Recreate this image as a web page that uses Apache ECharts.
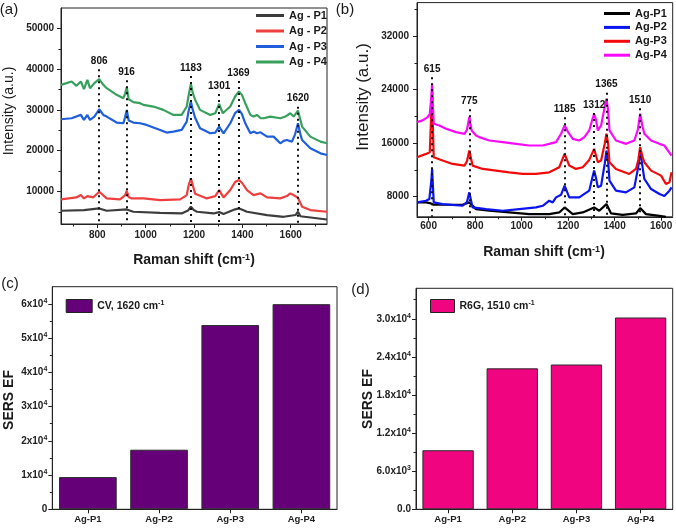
<!DOCTYPE html>
<html><head><meta charset="utf-8">
<script src="https://cdn.jsdelivr.net/npm/echarts@6/dist/echarts.min.js"></script>
<style>html,body{margin:0;padding:0;background:#fff}#c{width:676px;height:529px}</style>
</head><body><div id="c"></div>
<script>
// ---------- Panel (a): CV spectra ----------
const namesA = ['Ag - P1', 'Ag - P2', 'Ag - P3', 'Ag - P4'];
const specA_P1 = [[650,5250],[745,5410],[808,5820],[839,5250],[922,5570],[949,5000],[1060,4750],[1149,4590],[1175,5300],[1187,6230],[1200,5400],[1212,5000],[1281,4590],[1304,4920],[1322,4430],[1370,5600],[1386,5820],[1400,5500],[1419,5000],[1502,4180],[1571,3770],[1620,4200],[1630,5000],[1640,3900],[1647,3770],[1750,3110]];
const specA_P2 = [[650,8030],[714,8520],[732,9100],[745,8280],[759,8850],[783,8520],[808,9920],[839,8280],[894,8030],[915,9000],[922,10160],[930,8600],[942,8280],[991,8280],[1060,7870],[1143,8030],[1170,9100],[1178,11500],[1187,13200],[1195,11500],[1205,9400],[1253,8280],[1288,8850],[1304,10330],[1322,8520],[1350,10330],[1370,12300],[1386,12790],[1400,12000],[1419,10330],[1446,9100],[1475,9500],[1502,8520],[1557,8280],[1584,8850],[1598,9500],[1612,9100],[1630,8400],[1647,6230],[1681,5410],[1750,5000]];
const specA_P3 = [[650,27700],[694,27950],[732,28770],[745,27540],[759,28770],[770,27540],[788,28360],[808,30160],[825,28770],[839,28360],[880,26890],[908,26720],[915,28200],[922,30000],[930,27400],[949,26890],[977,26720],[1004,26310],[1060,25080],[1087,24430],[1115,24670],[1149,25080],[1170,27130],[1177,29500],[1187,32050],[1195,30000],[1205,28000],[1225,25490],[1267,24260],[1288,24430],[1304,25900],[1322,24260],[1350,26720],[1370,29200],[1386,30000],[1398,29000],[1412,26720],[1433,24260],[1446,24670],[1460,24260],[1475,24500],[1502,23440],[1529,23440],[1557,21800],[1571,22400],[1584,22620],[1605,22210],[1618,24000],[1630,26720],[1640,24000],[1647,22620],[1681,20570],[1723,19340],[1750,18930]];
const specA_P4 = [[650,36150],[673,36560],[694,36970],[714,35900],[732,36970],[745,35080],[759,37380],[770,35330],[788,36560],[808,37540],[825,36150],[839,35330],[880,33690],[908,32870],[915,34000],[922,35575],[930,32600],[949,31900],[977,31640],[991,31230],[1032,30820],[1073,30000],[1115,28770],[1149,28770],[1170,30820],[1177,33280],[1187,36390],[1195,34100],[1205,32460],[1225,30000],[1267,28770],[1288,29180],[1304,31480],[1319,29180],[1350,30820],[1370,33280],[1386,34510],[1398,33690],[1412,31640],[1433,28770],[1446,28360],[1460,28770],[1475,28000],[1488,27950],[1515,28360],[1557,27950],[1578,28360],[1598,29180],[1612,28360],[1630,29840],[1640,27540],[1647,25900],[1681,23440],[1723,22210],[1750,21800]];
const peakLabelA = ['806', '916', '1183', '1301', '1369', '1620'];
const peakPosA = [808, 921, 1187, 1304, 1384, 1630];
const peakTopA = [40000, 37300, 38300, 33900, 37100, 30800];
const tickA_x = [800, 1000, 1200, 1400, 1600];
const minorA_x = [700, 900, 1100, 1300, 1500, 1700];
const tickA_y = [10000, 20000, 30000, 40000, 50000];
const minorA_y = [5000, 15000, 25000, 35000, 45000];

// ---------- Panel (b): R6G spectra ----------
const namesB = ['Ag-P1', 'Ag-P2', 'Ag-P3', 'Ag-P4'];
const specB_P1 = [[550,7150],[589,7150],[610,7000],[615,7200],[622,6800],[746,6800],[775,7150],[804,6150],[861,5900],[947,5650],[1033,5400],[1119,5400],[1162,5650],[1185,6400],[1220,5400],[1263,5650],[1312,6400],[1334,5900],[1365,6900],[1385,5500],[1435,5300],[1492,5500],[1510,6300],[1535,5400],[1593,5150],[1621,5000]];
const specB_P2 = [[550,7150],[589,7400],[603,7650],[612,10500],[615,12150],[618,10000],[622,7150],[660,6900],[746,6650],[765,7200],[775,8650],[789,6400],[847,6150],[919,5900],[990,6150],[1062,6400],[1091,6650],[1119,7400],[1134,7150],[1148,7900],[1170,8300],[1185,9650],[1205,7900],[1248,7900],[1291,8900],[1304,10800],[1312,11900],[1320,10800],[1328,9400],[1342,9650],[1358,13000],[1365,14900],[1372,13500],[1378,10400],[1406,8900],[1449,8650],[1485,9400],[1502,12500],[1510,14900],[1520,12500],[1528,10650],[1557,9150],[1593,8400],[1614,8100],[1636,8900],[1645,9400]];
const specB_P3 = [[550,13900],[589,14400],[605,14650],[612,21000],[615,24150],[618,19000],[622,13900],[660,13400],[703,12900],[754,12650],[765,13300],[775,14900],[789,12650],[833,12150],[890,11900],[947,11650],[1005,11400],[1062,11400],[1119,11650],[1162,12400],[1185,14400],[1205,12650],[1234,12150],[1263,12400],[1291,13500],[1312,15150],[1328,13150],[1342,13400],[1358,16000],[1365,17400],[1372,16000],[1378,13150],[1406,12150],[1463,11400],[1492,12150],[1502,13500],[1510,15400],[1520,14000],[1528,13150],[1557,11900],[1600,11150],[1621,9900],[1636,10150],[1645,11650]];
const specB_P4 = [[550,19150],[574,19400],[596,19900],[605,20400],[612,23000],[615,24900],[618,22000],[622,18900],[646,18650],[675,18150],[718,17650],[754,17400],[765,18000],[775,19900],[785,17900],[804,17150],[818,16900],[861,16400],[919,16150],[976,15900],[1033,15650],[1091,15650],[1119,15900],[1148,16150],[1170,17400],[1185,18650],[1200,17650],[1220,16650],[1248,16400],[1270,16900],[1291,17900],[1304,19500],[1312,20400],[1320,19500],[1328,17900],[1342,18650],[1358,21500],[1365,22650],[1372,21000],[1378,17900],[1406,16400],[1449,15900],[1485,16400],[1500,18000],[1510,20400],[1520,18500],[1528,17400],[1557,16400],[1593,15900],[1614,15650],[1645,14150]];
const peakLabelB = ['615', '775', '1185', '1312', '1365', '1510'];
const peakPosB = [615, 775, 1185, 1312, 1365, 1510];
const peakTopB = [25840, 21060, 19870, 20500, 23540, 21210];
const tickB_x = [600, 800, 1000, 1200, 1400, 1600];
const minorB_x = [700, 900, 1100, 1300, 1500];
const tickB_y = [8000, 16000, 24000, 32000];
const minorB_y = [12000, 20000, 28000, 36000];

// ---------- Panels (c), (d): SERS EF bars ----------
const barCats = ['Ag-P1', 'Ag-P2', 'Ag-P3', 'Ag-P4'];
const efCV = [9400, 17400, 53800, 59900];
const efR6G = [9300, 22200, 22800, 30200];
const tickC_y = [0, 10000, 20000, 30000, 40000, 50000, 60000];
const minorC_y = [5000, 15000, 25000, 35000, 45000, 55000];
const tickD_y = [0, 6000, 12000, 18000, 24000, 30000];
const minorD_y = [3000, 9000, 15000, 21000, 27000, 33000];

const F = 'Liberation Sans, Arial, sans-serif';
const AX = '#222';
const colorsA = ['#3d3d3d', '#ef3e3e', '#1f5fdc', '#36a05c'];
const colorsB = ['#000000', '#0a14f0', '#f20a0a', '#fa0afa'];

const chart = echarts.init(document.getElementById('c'), null, {renderer: 'canvas'});

const supRich = {
  b: {fontSize: 10, fontWeight: 'bold', color: '#222', fontFamily: F, lineHeight: 13},
  s: {fontSize: 7, fontWeight: 'bold', color: '#222', fontFamily: F, lineHeight: 7, verticalAlign: 'top'}
};
const plainFmt = v => String(v);

function mainAxis(gridIndex, min, max, ticks, pos, margin, fmt, rich) {
  return {
    type: 'value', gridIndex, min, max, position: pos,
    axisLine: {show: true, onZero: false, lineStyle: {color: AX, width: 1}},
    axisTick: {show: true, inside: false, length: 4, customValues: ticks, lineStyle: {color: AX, width: 1}},
    axisLabel: {show: true, customValues: ticks, margin, formatter: fmt || plainFmt, rich,
      color: '#222', fontSize: 10, fontWeight: 'bold', fontFamily: F},
    splitLine: {show: false}, minorTick: {show: false}
  };
}
function minorAxis(gridIndex, min, max, ticks, pos) {
  return {
    type: 'value', gridIndex, min, max, position: pos,
    axisLine: {show: false, onZero: false},
    axisTick: {show: true, inside: false, length: 2.5, customValues: ticks, lineStyle: {color: AX, width: 1}},
    axisLabel: {show: false}, splitLine: {show: false}
  };
}
function catAxis(gridIndex) {
  return {
    type: 'category', gridIndex, data: barCats, position: 'bottom',
    axisLine: {show: true, lineStyle: {color: AX, width: 1}},
    axisTick: {show: true, alignWithLabel: true, length: 4, lineStyle: {color: AX}},
    axisLabel: {margin: 5, color: '#222', fontSize: 9.5, fontWeight: 'bold', fontFamily: F},
    splitLine: {show: false}
  };
}
function lineSeries(name, data, color, xi, yi) {
  return {type: 'line', name, data, xAxisIndex: xi, yAxisIndex: yi, showSymbol: false, symbol: 'none',
    lineStyle: {color, width: 2.2}, itemStyle: {color}, animation: false, silent: true};
}
function peakSeries(xi, yi, pos, top, labels, bottom) {
  return {
    type: 'line', name: 'peaks' + xi, data: [], xAxisIndex: xi, yAxisIndex: yi, silent: true, animation: false,
    markLine: {
      symbol: ['none', 'none'], silent: true, animation: false,
      lineStyle: {color: '#111', width: 2, type: [2, 4]},
      label: {show: true, position: 'start', formatter: '{b}', color: '#111', fontSize: 10,
        fontWeight: 'bold', fontFamily: F, distance: 3},
      emphasis: {disabled: true},
      data: pos.map((p, i) => [{name: labels[i], coord: [p, top[i]]}, {coord: [p, bottom]}])
    }
  };
}
const gridBase = {show: true, borderColor: AX, borderWidth: 1, backgroundColor: 'transparent', containLabel: false, outerBoundsMode: 'none'};

const fmtC = v => v === 0 ? '{b|0}' : '{b|' + (v / 10000) + 'x10}{s|4}';
const fmtD = v => {
  if (v === 0) return '{b|0.0}';
  if (v < 10000) return '{b|' + (v / 1000).toFixed(1) + 'x10}{s|3}';
  return '{b|' + (v / 10000).toFixed(1) + 'x10}{s|4}';
};

function gtext(text, x, y, font, rot, rich) {
  return {type: 'text', x, y, rotation: rot || 0, silent: true,
    style: {text, font, fill: '#1a1a1a', align: 'center', verticalAlign: 'middle', rich: rich || undefined}};
}
const supG = sz => ({s: {font: 'bold ' + sz + 'px ' + F, fill: '#1a1a1a', verticalAlign: 'top', lineHeight: sz}});
const legendSup = {s: {fontSize: 7, fontWeight: 'bold', fontFamily: F, color: '#1a1a1a', lineHeight: 7, verticalAlign: 'top'}};

const option = {
  backgroundColor: '#fff',
  animation: false,
  grid: [
    Object.assign({left: 61, top: 8, width: 266, height: 216}, gridBase),
    Object.assign({left: 417, top: 2.6, width: 255.7, height: 214.2}, gridBase),
    Object.assign({left: 52.3, top: 286.7, width: 284.7, height: 222.6}, gridBase),
    Object.assign({left: 416, top: 288.3, width: 256.7, height: 221}, gridBase)
  ],
  xAxis: [
    mainAxis(0, 650, 1750, tickA_x, 'bottom', 6),
    minorAxis(0, 650, 1750, minorA_x, 'bottom'),
    mainAxis(1, 550, 1650, tickB_x, 'bottom', 4),
    minorAxis(1, 550, 1650, minorB_x, 'bottom'),
    catAxis(2),
    catAxis(3)
  ],
  yAxis: [
    mainAxis(0, 2000, 55000, tickA_y, 'left', 7),
    minorAxis(0, 2000, 55000, minorA_y, 'left'),
    mainAxis(1, 5000, 37000, tickB_y, 'left', 8),
    minorAxis(1, 5000, 37000, minorB_y, 'left'),
    mainAxis(2, 0, 65000, tickC_y, 'left', 5, fmtC, supRich),
    minorAxis(2, 0, 65000, minorC_y, 'left'),
    mainAxis(3, 0, 34800, tickD_y, 'left', 5, fmtD, supRich),
    minorAxis(3, 0, 34800, minorD_y, 'left')
  ],
  legend: [
    {data: namesA, left: 256, top: 10, padding: 0, orient: 'vertical', icon: 'rect', itemWidth: 28, itemHeight: 3, itemGap: 4.5,
      selectedMode: false, textStyle: {fontSize: 11, fontWeight: 'bold', color: '#1a1a1a', fontFamily: F}},
    {data: namesB, left: 604, top: 8, padding: 0, orient: 'vertical', icon: 'rect', itemWidth: 26, itemHeight: 3, itemGap: 2.9,
      selectedMode: false, textStyle: {fontSize: 11, fontWeight: 'bold', color: '#1a1a1a', fontFamily: F}},
    {data: ['CV, 1620 cm-1'], left: 65.7, top: 299, padding: 0, icon: 'rect', itemWidth: 26, itemHeight: 13,
      selectedMode: false, itemStyle: {borderColor: '#222', borderWidth: 1},
      formatter: () => 'CV, 1620 cm{s|-1}',
      textStyle: {fontSize: 10.5, fontWeight: 'bold', color: '#1a1a1a', fontFamily: F, lineHeight: 13, rich: legendSup}},
    {data: ['R6G, 1510 cm-1'], left: 430, top: 299, padding: 0, icon: 'rect', itemWidth: 24, itemHeight: 13,
      selectedMode: false, itemStyle: {borderColor: '#222', borderWidth: 1},
      formatter: () => 'R6G, 1510 cm{s|-1}',
      textStyle: {fontSize: 10.5, fontWeight: 'bold', color: '#1a1a1a', fontFamily: F, lineHeight: 13, rich: legendSup}}
  ],
  series: [
    lineSeries(namesA[0], specA_P1, colorsA[0], 0, 0),
    lineSeries(namesA[1], specA_P2, colorsA[1], 0, 0),
    lineSeries(namesA[2], specA_P3, colorsA[2], 0, 0),
    lineSeries(namesA[3], specA_P4, colorsA[3], 0, 0),
    peakSeries(0, 0, peakPosA, peakTopA, peakLabelA, 2000),
    lineSeries(namesB[0], specB_P1, colorsB[0], 2, 2),
    lineSeries(namesB[1], specB_P2, colorsB[1], 2, 2),
    lineSeries(namesB[2], specB_P3, colorsB[2], 2, 2),
    lineSeries(namesB[3], specB_P4, colorsB[3], 2, 2),
    peakSeries(2, 2, peakPosB, peakTopB, peakLabelB, 5000),
    {type: 'bar', name: 'CV, 1620 cm-1', data: efCV, xAxisIndex: 4, yAxisIndex: 4, barCategoryGap: '19%',
      itemStyle: {color: '#660078', borderColor: '#2a2a2a', borderWidth: 1}, animation: false, silent: true},
    {type: 'bar', name: 'R6G, 1510 cm-1', data: efR6G, xAxisIndex: 5, yAxisIndex: 6, barCategoryGap: '20%',
      itemStyle: {color: '#f0047f', borderColor: '#2a2a2a', borderWidth: 1}, animation: false, silent: true}
  ],
  graphic: [
    gtext('(a)', 9, 10, '15px ' + F),
    gtext('(b)', 345, 10, '15px ' + F),
    gtext('(c)', 10, 284, '15px ' + F),
    gtext('(d)', 360.5, 290, '15px ' + F),
    gtext('Intensity (a.u.)', 9.5, 111, '14px ' + F, Math.PI / 2),
    gtext('Intensity (a.u.)', 363.5, 97, '17px ' + F, Math.PI / 2),
    gtext('Raman shift (cm{s|-1})', 194, 260, 'bold 14px ' + F, 0, supG(9)),
    gtext('Raman shift (cm{s|-1})', 544, 252, 'bold 14px ' + F, 0, supG(9)),
    gtext('SERS EF', 9.5, 400, 'bold 14px ' + F, Math.PI / 2),
    gtext('SERS EF', 368.5, 399, 'bold 14px ' + F, Math.PI / 2)
  ]
};
chart.setOption(option);
</script></body></html>
